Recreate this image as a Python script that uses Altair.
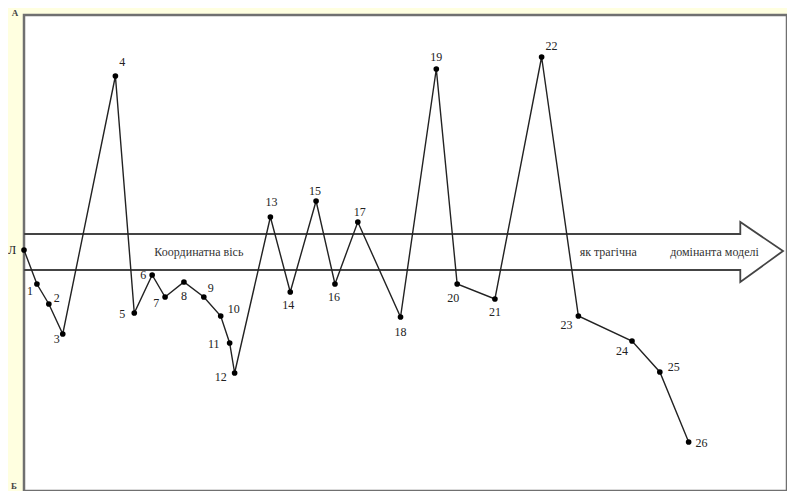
import altair as alt
import pandas as pd

# ---- data (units ~ pixels of the original frame; y measured up from point Б) ----
point_labels = ["Л", "1", "2", "3", "4", "5", "6", "7", "8", "9", "10", "11", "12",
                "13", "14", "15", "16", "17", "18", "19", "20", "21", "22", "23",
                "24", "25", "26"]
x_pos = [0, 13, 25, 39, 92, 111, 129, 142, 161, 181, 198, 207, 212, 248, 268, 294,
         313, 336, 379, 415, 436, 474, 521, 558, 612, 640, 669]
y_pos = [241, 207, 187, 157, 415, 178, 216, 194, 209, 194, 175, 148, 118, 274, 199,
         290, 207, 269, 174, 422, 207, 192, 434, 175, 150, 119, 49]
# label offsets relative to the point
label_dx = [-12, -7, 8, -6, 7, -12, -9, -9, 0, 7, 13, -16, -14, 1, -2, -1, -1, 2, 0,
            0, -4, 0, 10, -12, -10, 14, 13]
label_dy = [0, 7, -6, 5, -14, 1, 0, 6, 14, -9, -7, 1, 4, -15, 13, -10, 13, -10, 15,
            -12, 14, 13, -11, 9, 10, -5, 1]

# coordinate-axis arrow outline
arrow_x = [0, 721, 721, 764, 721, 721, 0]
arrow_y = [257, 257, 269, 240, 209, 221, 221]

# captions
caption_text = ["Координатна вісь", "як трагічна", "домінанта моделі"]
caption_x = [176, 588, 695]
caption_y = [239, 239, 239]

corner_text = ["А", "Б"]
corner_x = [-9, -10]
corner_y = [478, 5]

pts = pd.DataFrame({"i": range(len(x_pos)), "x": x_pos, "y": y_pos,
                    "lab": point_labels, "dx": label_dx, "dy": label_dy})
arrow = pd.DataFrame({"i": range(len(arrow_x)), "x": arrow_x, "y": arrow_y})
caps = pd.DataFrame({"t": caption_text, "x": caption_x, "y": caption_y})
corners = pd.DataFrame({"t": corner_text, "x": corner_x, "y": corner_y})

XS = alt.Scale(domain=[0, 768], nice=False, zero=False)
YS = alt.Scale(domain=[0, 476], nice=False, zero=False)
X = alt.X("x:Q", scale=XS, axis=None)
Y = alt.Y("y:Q", scale=YS, axis=None)
SERIF = "Liberation Serif"

arrow_layer = alt.Chart(arrow).mark_line(color="#444444", strokeWidth=1.8).encode(
    x=X, y=Y, order="i:Q")

line_layer = alt.Chart(pts).mark_line(color="#222222", strokeWidth=1.4).encode(
    x=X, y=Y, order="i:Q")

dot_layer = alt.Chart(pts).mark_circle(size=32, color="black", opacity=1).encode(x=X, y=Y)

label_layer = alt.Chart(pts).transform_calculate(
    lx="datum.x + datum.dx", ly="datum.y - datum.dy"
).mark_text(font=SERIF, fontSize=12, color="#222222", baseline="middle", align="center").encode(
    x=alt.X("lx:Q", scale=XS, axis=None),
    y=alt.Y("ly:Q", scale=YS, axis=None),
    text="lab:N")

caption_layer = alt.Chart(caps).mark_text(font=SERIF, fontSize=12, color="#333333",
                                          baseline="middle", align="center").encode(
    x=X, y=Y, text="t:N")

corner_layer = alt.Chart(corners).mark_text(font=SERIF, fontSize=9, fontWeight="bold",
                                            color="#444444", baseline="middle",
                                            align="center").encode(x=X, y=Y, text="t:N")

chart = alt.layer(arrow_layer, line_layer, dot_layer, label_layer, caption_layer,
                  corner_layer).properties(
    width=763, height=476,
    autosize=alt.AutoSizeParams(type="none"),
    padding={"left": 16, "top": 7, "right": 0, "bottom": 0},
    background="#FFFFE0",
).configure_view(fill="white", stroke="#707070", strokeWidth=2.5)

chart.save("out.html", embed_options={"renderer": "svg", "actions": False})
